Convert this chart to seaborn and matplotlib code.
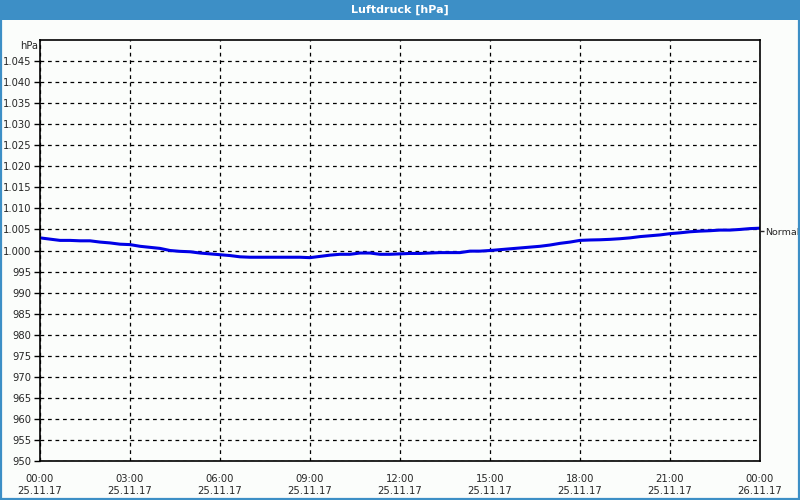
import matplotlib
matplotlib.use("Agg")
import matplotlib.pyplot as plt
import matplotlib.patches as mpatches
import seaborn as sns
import pandas as pd

# ---- data ----
hours = [i / 3 for i in range(73)]  # 20-minute sampling over 25.11.17
pressure = [
    1003.0, 1002.7, 1002.4, 1002.4, 1002.3, 1002.3, 1002.0, 1001.8, 1001.5, 1001.4,
    1001.0, 1000.75, 1000.5, 1000.0, 999.8, 999.7, 999.4, 999.2, 999.0, 998.8,
    998.5, 998.4, 998.4, 998.4, 998.4, 998.4, 998.4, 998.3, 998.6, 998.9,
    999.1, 999.1, 999.4, 999.4, 999.1, 999.1, 999.2, 999.3, 999.3, 999.4,
    999.5, 999.5, 999.5, 999.85, 999.85, 1000.0, 1000.2, 1000.4, 1000.6, 1000.8,
    1001.0, 1001.3, 1001.7, 1002.0, 1002.4, 1002.5, 1002.55, 1002.65, 1002.8, 1003.0,
    1003.3, 1003.5, 1003.7, 1004.0, 1004.2, 1004.45, 1004.6, 1004.7, 1004.85, 1004.85,
    1005.0, 1005.2, 1005.3,
]
x_tick_pos = [0, 3, 6, 9, 12, 15, 18, 21, 24]
x_tick_labels = ["00:00\n25.11.17", "03:00\n25.11.17", "06:00\n25.11.17",
                 "09:00\n25.11.17", "12:00\n25.11.17", "15:00\n25.11.17",
                 "18:00\n25.11.17", "21:00\n25.11.17", "00:00\n26.11.17"]
y_ticks = list(range(950, 1050, 5))
y_tick_labels = [("{:,}".format(v)).replace(",", ".") for v in y_ticks]
normal_value = 1004.6
normal_label = "Normal"
title = "Luftdruck [hPa]"
unit_label = "hPa"

df = pd.DataFrame({"hour": hours, "hPa": pressure})

sns.set_style("white")
plt.rcParams["font.family"] = ["DejaVu Sans"]

bg = "#fbfdfb"
blue_bar = "#3d8fc6"
fs = 7.2

fig = plt.figure(figsize=(8, 5), dpi=100, facecolor=bg)
# title bar and border
fig.patches.append(mpatches.Rectangle((0, 480 / 500), 1, 20 / 500, transform=fig.transFigure,
                                      facecolor=blue_bar, edgecolor="none", zorder=0))
fig.patches.append(mpatches.Rectangle((0.5 / 800, 1 / 500), 798.5 / 800, 498 / 500, transform=fig.transFigure,
                                      facecolor="none", edgecolor=blue_bar, linewidth=1.6, zorder=0))
fig.text(0.5, 1 - 10 / 500, title, ha="center", va="center", color="white",
         fontsize=8, fontweight="bold")

ax = fig.add_axes([40 / 800, 1 - 461 / 500, 720 / 800, 421 / 500])
ax.set_facecolor(bg)

sns.lineplot(data=df, x="hour", y="hPa", ax=ax, color="#0000e6", linewidth=2.2)

ax.set_xlim(0, 24)
ax.set_ylim(950, 1050)
ax.set_xticks(x_tick_pos)
ax.set_xticklabels(x_tick_labels, fontsize=fs, linespacing=1.3)
ax.set_xticks(range(0, 25), minor=True)
ax.set_yticks(y_ticks)
ax.set_yticklabels(y_tick_labels, fontsize=fs)
ax.set_xlabel("")
ax.set_ylabel("")

ax.tick_params(axis="x", which="major", direction="out", length=5, width=1, color="black", pad=4)
ax.tick_params(axis="x", which="minor", direction="out", length=4, width=1, color="black")
ax.tick_params(axis="y", which="major", direction="out", length=4, width=1, color="black", pad=2)

ax.grid(True, which="major", color="black", linestyle=(0, (3, 3)), linewidth=0.9)
for s in ax.spines.values():
    s.set_color("black")
    s.set_linewidth(1.2)
    s.set_visible(True)

fig.text(38 / 800, 1 - 46 / 500, unit_label, ha="right", va="center", fontsize=fs)

ax2 = ax.twinx()
ax2.set_ylim(950, 1050)
ax2.set_yticks([normal_value])
ax2.set_yticklabels([normal_label], fontsize=6.8)
ax2.tick_params(axis="y", direction="out", length=3, width=1, pad=1)
for s in ax2.spines.values():
    s.set_visible(False)

fig.savefig("out.png", dpi=100, facecolor=bg)
